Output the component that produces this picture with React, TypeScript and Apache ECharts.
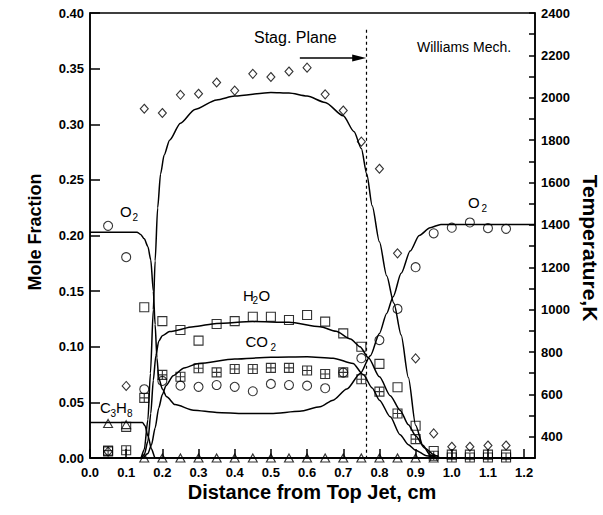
import React, { useEffect, useRef } from "react";
import * as echarts from "echarts";

const FONT = '"Liberation Sans", Arial, Helvetica, sans-serif';

// measured positions (cm)
const xMeas = [0.05, 0.1, 0.15, 0.2, 0.25, 0.3, 0.35, 0.4, 0.45, 0.5, 0.55, 0.6, 0.65, 0.7, 0.75, 0.8, 0.85, 0.9, 0.95, 1.0, 1.05, 1.1, 1.15];
const tempMeas = [330, 640, 1948, 1928, 2014, 2019, 2072, 2034, 2113, 2098, 2124, 2142, 2016, 1940, 1793, 1665, 1266, 770, 416, 353, 353, 359, 359];
const o2Meas = [0.2087, 0.1805, 0.0618, 0.0693, 0.065, 0.064, 0.0656, 0.064, 0.06, 0.0666, 0.0656, 0.065, 0.0627, 0.0768, 0.0897, 0.106, 0.134, 0.1715, 0.202, 0.207, 0.2117, 0.2066, 0.206];
const h2oMeas = [0.006, 0.028, 0.1355, 0.123, 0.115, 0.1055, 0.1205, 0.123, 0.127, 0.127, 0.124, 0.1286, 0.1226, 0.112, 0.1, 0.0846, 0.0636, 0.029, 0.0063, 0.003, 0.003, 0.003, 0.003];
const co2Meas = [0.0066, 0.007, 0.054, 0.0747, 0.073, 0.0807, 0.077, 0.08, 0.08, 0.081, 0.081, 0.0786, 0.0755, 0.077, 0.0708, 0.0597, 0.04, 0.017, 0.002, 0.0005, 0.0005, 0.0005, 0.0005];
const c3h8X = [0.05, 0.1, 0.15, 0.2, 0.25, 0.3, 0.35, 0.4, 0.45, 0.5, 0.55, 0.6, 0.65, 0.7, 0.75, 0.8, 0.85, 0.9, 0.95];
const c3h8Meas = [0.031, 0.03, 0, 0, 0, 0, 0, 0, 0, 0, 0, 0, 0, 0, 0, 0, 0, 0, 0];

// model curves (Williams mechanism)
const tempModel: [number, number][] = [
  [0, 300], [0.14, 300], [0.15, 340], [0.16, 480], [0.167, 700], [0.175, 1000], [0.18, 1230],
  [0.187, 1480], [0.195, 1640], [0.205, 1730], [0.22, 1800], [0.25, 1880], [0.29, 1945],
  [0.35, 1990], [0.4, 2008], [0.5, 2025], [0.55, 2022], [0.6, 2008], [0.65, 1978], [0.7, 1915],
  [0.73, 1840], [0.75, 1760], [0.765, 1640], [0.78, 1490], [0.8, 1320], [0.82, 1160],
  [0.84, 1030], [0.86, 880], [0.88, 680], [0.9, 455], [0.92, 360], [0.94, 315], [0.96, 300], [1.23, 300],
];
const o2Model: [number, number][] = [
  [0, 0.203], [0.13, 0.203], [0.14, 0.201], [0.15, 0.197], [0.16, 0.19], [0.168, 0.178],
  [0.175, 0.15], [0.18, 0.12], [0.185, 0.09], [0.19, 0.072], [0.2, 0.062], [0.212, 0.055],
  [0.235, 0.048], [0.286, 0.043], [0.35, 0.041], [0.425, 0.04], [0.5, 0.04], [0.58, 0.042],
  [0.636, 0.046], [0.672, 0.052], [0.71, 0.062], [0.747, 0.076], [0.775, 0.092], [0.8, 0.112],
  [0.82, 0.13], [0.838, 0.145], [0.86, 0.166], [0.885, 0.186], [0.91, 0.2], [0.94, 0.207],
  [0.97, 0.21], [1.23, 0.21],
];
const h2oModel: [number, number][] = [
  [0, 0], [0.14, 0], [0.15, 0.003], [0.16, 0.015], [0.168, 0.04], [0.175, 0.07], [0.182, 0.092],
  [0.19, 0.105], [0.2, 0.11], [0.22, 0.1136], [0.286, 0.118], [0.35, 0.121], [0.45, 0.1226],
  [0.55, 0.122], [0.636, 0.118], [0.68, 0.114], [0.72, 0.107], [0.746, 0.1], [0.77, 0.09],
  [0.8, 0.073], [0.83, 0.056], [0.857, 0.043], [0.88, 0.03], [0.9, 0.02], [0.925, 0.009],
  [0.95, 0.003], [0.97, 0], [1.23, 0],
];
const co2Model: [number, number][] = [
  [0, 0], [0.145, 0], [0.16, 0.004], [0.17, 0.012], [0.18, 0.027], [0.19, 0.045], [0.2, 0.057],
  [0.21, 0.065], [0.23, 0.074], [0.26, 0.081], [0.3, 0.085], [0.4, 0.089], [0.5, 0.0905],
  [0.6, 0.091], [0.672, 0.0897], [0.727, 0.085], [0.755, 0.075], [0.78, 0.063], [0.8, 0.052],
  [0.83, 0.037], [0.857, 0.021], [0.88, 0.012], [0.9, 0.007], [0.93, 0.002], [0.96, 0], [1.23, 0],
];
const c3h8Model: [number, number][] = [
  [0, 0.032], [0.145, 0.032], [0.152, 0.029], [0.16, 0.02], [0.17, 0.008], [0.18, 0], [1.23, 0],
];

const xTicks = { min: 0, max: 1.23, interval: 0.1 };
const yLeft = { min: 0, max: 0.4, interval: 0.05 };
const yRight = { min: 300, max: 2400, interval: 100 };
const stagPlaneX = 0.763;

const boxCross = "path://M0,0H10V10H0Z M5,0V10 M0,5H10";

function txt(text: string, x: number, y: number, size: number, opts: any = {}) {
  return {
    type: "text",
    x,
    y,
    rotation: opts.rotation || 0,
    silent: true,
    style: {
      text,
      fill: "#000",
      fontSize: size,
      fontWeight: opts.bold ? "bold" : "normal",
      fontFamily: FONT,
      align: opts.align || "left",
      textAlign: opts.align || "left",
      verticalAlign: "middle",
      textVerticalAlign: "middle",
    },
  };
}

export default function App() {
  const ref = useRef<HTMLDivElement>(null);
  useEffect(() => {
    if (!ref.current) return;
    const chart = echarts.init(ref.current, undefined, { renderer: "svg" });
    const zip = (xs: number[], ys: number[]) => xs.map((x, i) => [x, ys[i]]);
    const lineStyle = { color: "#000", width: 1.5 };
    const lineSeries = (data: [number, number][], yAxisIndex = 0, extra: any = {}) => ({
      type: "line",
      data,
      yAxisIndex,
      showSymbol: false,
      symbol: "none",
      smooth: 0.25,
      smoothMonotone: "x",
      lineStyle,
      silent: true,
      z: 2,
      ...extra,
    });
    const scatter = (data: number[][], symbol: string, size: any, yAxisIndex = 0) => ({
      type: "scatter",
      data,
      yAxisIndex,
      symbol,
      symbolSize: size,
      itemStyle: { color: "transparent", borderColor: "#000", borderWidth: 1.1 },
      silent: true,
      z: 3,
    });
    const axisLabel = { color: "#000", fontWeight: "bold", fontSize: 13, fontFamily: FONT };
    chart.setOption({
      animation: false,
      grid: { left: 90, right: 68, top: 13, bottom: 57, show: true, borderColor: "#000", borderWidth: 1.5 },
      xAxis: {
        type: "value",
        ...xTicks,
        axisLine: { lineStyle: { color: "#000", width: 1.5 } },
        axisTick: { inside: true, length: 9, lineStyle: { color: "#000", width: 1.5 } },
        axisLabel: {
          ...axisLabel,
          margin: 8,
          showMaxLabel: false,
          formatter: (v: number) => (v > 1.21 ? "" : v.toFixed(1)),
        },
        splitLine: { show: false },
      },
      yAxis: [
        {
          type: "value",
          position: "left",
          ...yLeft,
          axisLine: { show: true, lineStyle: { color: "#000", width: 1.5 } },
          axisTick: { show: true, inside: true, length: 10, lineStyle: { color: "#000", width: 1.5 } },
          axisLabel: { ...axisLabel, margin: 6, formatter: (v: number) => v.toFixed(2) },
          splitLine: { show: false },
        },
        {
          type: "value",
          position: "right",
          ...yRight,
          axisLine: { show: true, lineStyle: { color: "#000", width: 1.5 } },
          axisTick: { show: true, inside: true, length: 6, lineStyle: { color: "#000", width: 1.5 } },
          axisLabel: { ...axisLabel, margin: 6, formatter: (v: number) => (v % 200 === 0 ? String(v) : "") },
          splitLine: { show: false },
        },
      ],
      series: [
        lineSeries(tempModel, 1),
        lineSeries(o2Model),
        lineSeries(h2oModel),
        lineSeries(co2Model),
        lineSeries(c3h8Model, 0, {
          markLine: {
            silent: true,
            animation: false,
            label: { show: false },
            data: [
              [
                { coord: [stagPlaneX, 0.385], symbol: "none", lineStyle: { type: [3, 3], width: 1.2, color: "#000" } },
                { coord: [stagPlaneX, 0], symbol: "none" },
              ],
              [
                { coord: [0.58, 0.3595], symbol: "none", lineStyle: { type: "solid", width: 1.5, color: "#000" } },
                { coord: [0.744, 0.3595], symbol: "triangle", symbolSize: [7, 14] },
              ],
            ],
            itemStyle: { color: "#000" },
          },
        }),
        scatter(zip(xMeas, tempMeas), "diamond", [8, 9], 1),
        scatter(zip(xMeas, o2Meas), "circle", 9),
        scatter(zip(xMeas, h2oMeas), "rect", 9),
        scatter(zip(xMeas, co2Meas), boxCross, 9),
        scatter(zip(c3h8X, c3h8Meas), "triangle", [9, 8]),
      ],
      graphic: [
        txt("Mole Fraction", 35, 232, 18, { bold: true, align: "center", rotation: Math.PI / 2 }),
        txt("Temperature,K", 590, 248, 21, { bold: true, align: "center", rotation: -Math.PI / 2 }),
        txt("Distance from Top Jet, cm", 312, 492, 20, { bold: true, align: "center" }),
        txt("Stag. Plane", 254, 37, 16),
        txt("Williams Mech.", 417, 47, 14),
        txt("O", 120, 211, 15),
        txt("2", 132.5, 217, 10),
        txt("O", 468, 202, 15),
        txt("2", 481.5, 208, 10),
        txt("H", 243, 295, 15),
        txt("2", 252.5, 300, 10),
        txt("O", 258.5, 295, 15),
        txt("CO", 245.5, 341, 15),
        txt("2", 270.5, 347, 10),
        txt("C", 100, 407, 15),
        txt("3", 110.5, 413, 10),
        txt("H", 116, 407, 15),
        txt("8", 127, 413, 10),
      ],
    });
    return () => chart.dispose();
  }, []);
  return <div ref={ref} style={{ position: "absolute", left: 0, top: 0, width: 603, height: 515 }} />;
}
